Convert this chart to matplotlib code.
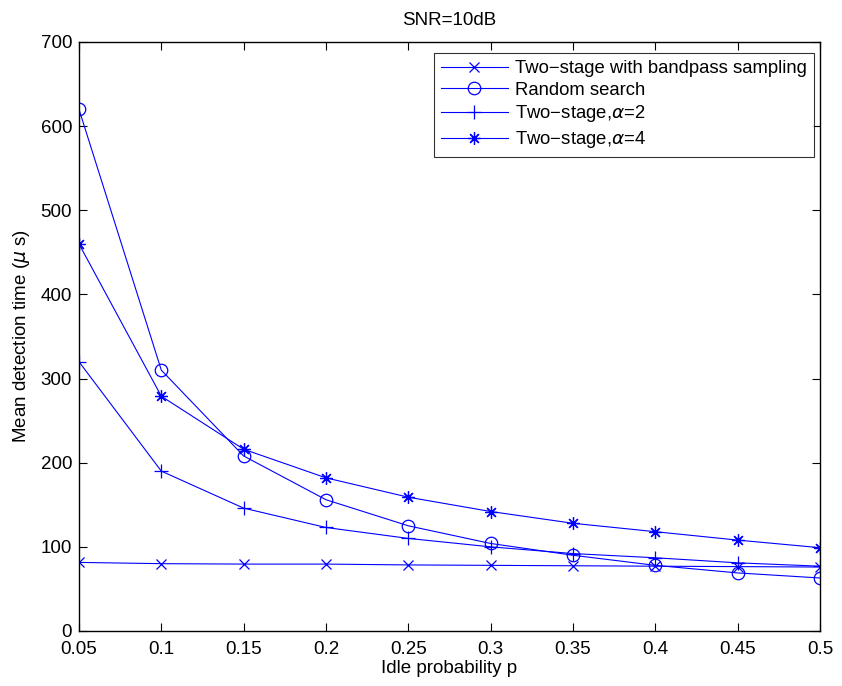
import numpy as np
import matplotlib
matplotlib.use("Agg")
import matplotlib.pyplot as plt

plt.rcParams['font.family'] = ['Liberation Sans', 'DejaVu Sans']

# idle probability
p = [0.05, 0.1, 0.15, 0.2, 0.25, 0.3, 0.35, 0.4, 0.45, 0.5]
# mean detection time (us)
bandpass = [81.5, 80, 79.5, 79.5, 78.5, 78, 77.5, 77, 76.5, 76]
random_search = [620, 310, 208, 156, 125, 104, 90, 78, 69, 63]
alpha2 = [320, 190, 146, 123, 110, 100, 92, 87, 81, 77]
alpha4 = [460, 279, 216, 182, 159, 142, 128, 118, 108, 99]

labels = ["Two\u2212stage with bandpass sampling", "Random search",
          "Two\u2212stage,$\\alpha$=2", "Two\u2212stage,$\\alpha$=4"]

fig = plt.figure(figsize=(8.42, 6.86), dpi=100)
ax = fig.add_axes([0.0938, 0.0802, 0.8800, 0.8586])

blue = "#0000ff"
ax.plot(p, bandpass, color=blue, lw=0.8, marker="x", ms=7, mew=0.9, label=labels[0])
ax.plot(p, random_search, color=blue, lw=0.8, marker="o", ms=9, mfc="none", mew=0.9, label=labels[1])
ax.plot(p, alpha2, color=blue, lw=0.8, marker="+", ms=10, mew=0.9, label=labels[2])
ax.plot(p, alpha4, color=blue, lw=0.8, marker=(8, 2, 0), ms=9, mew=0.9, label=labels[3])

ax.set_xlim(0.05, 0.5)
ax.set_ylim(0, 700)
ax.set_xticks(p)
ax.set_xticklabels(["0.05", "0.1", "0.15", "0.2", "0.25", "0.3", "0.35", "0.4", "0.45", "0.5"])
ax.set_yticks(np.arange(0, 701, 100))
ax.tick_params(direction="in", top=True, right=True, labelsize=13.5, length=6, width=0.8)
ax.tick_params(axis="x", pad=7)
ax.tick_params(axis="y", pad=5)
for s in ax.spines.values():
    s.set_linewidth(1.0)

ax.set_title("SNR=10dB", fontsize=13.5, pad=12)
ax.set_xlabel("Idle probability p", fontsize=13.5, labelpad=2)
ax.set_ylabel("Mean detection time ($\\mu$ s)", fontsize=13.5, labelpad=6)

leg = ax.legend(loc="upper right", bbox_to_anchor=(1.0, 0.992), fontsize=13.3,
                frameon=True, fancybox=False, edgecolor="black",
                borderpad=0.4, labelspacing=0.25, handlelength=3.6,
                handletextpad=0.38, borderaxespad=0.33)
leg.get_frame().set_linewidth(0.8)

plt.savefig("out.png", dpi=100)
